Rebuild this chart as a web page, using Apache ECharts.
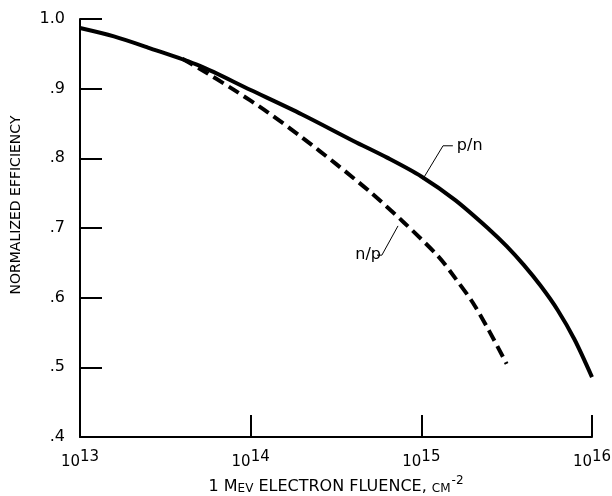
<!DOCTYPE html>
<html><head><meta charset="utf-8">
<script src="https://cdn.jsdelivr.net/npm/echarts@6/dist/echarts.min.js"></script>
<style>html,body{margin:0;padding:0;background:#fff}#c{width:612px;height:496px}</style>
</head><body><div id="c"></div>
<script>
// p/n cell (solid)
const pnFluence = [1e13, 1.58e13, 2.5e13, 5e13, 1e14, 2e14, 4e14, 6.3e14, 1e15, 1.58e15, 2.5e15, 3.16e15, 3.98e15, 5e15, 6.3e15, 7.9e15, 1e16];
const pnEff     = [0.987, 0.975, 0.959, 0.933, 0.898, 0.863, 0.825, 0.801, 0.774, 0.740, 0.698, 0.674, 0.647, 0.617, 0.582, 0.540, 0.486];
// n/p cell (dashed)
const npFluence = [3.98e13, 5e13, 7.9e13, 1.26e14, 2e14, 3.16e14, 5e14, 7.9e14, 1.26e15, 1.58e15, 2e15, 2.5e15, 3.16e15];
const npEff     = [0.943, 0.929, 0.899, 0.866, 0.830, 0.792, 0.752, 0.708, 0.659, 0.628, 0.593, 0.552, 0.505];
// annotation leaders (data space)
const pnLeaderX = [1.02e15, 1.34e15, 1.53e15];
const pnLeaderY = [0.770, 0.818, 0.818];
const npLeaderX = [7.3e14, 5.87e14, 5.5e14];
const npLeaderY = [0.703, 0.661, 0.661];
const labelNames = ['p/n', 'n/p'];

const FONT = "'DejaVu Sans', sans-serif";
const zip = (a, b) => a.map((v, i) => [v, b[i]]);

const chart = echarts.init(document.getElementById('c'), null, {renderer: 'canvas'});
chart.setOption({
  animation: false,
  backgroundColor: '#fff',
  grid: {left: 80, right: 20, top: 19, bottom: 59, containLabel: false, outerBoundsMode: 'none'},
  xAxis: {
    type: 'log', logBase: 10, min: 1e13, max: 1e16,
    name: '{n|1 M}{s|EV}{n| ELECTRON FLUENCE, }{s|CM}{sup|-2}',
    nameLocation: 'middle', nameGap: 35,
    nameTextStyle: {
      rich: {
        n: {fontFamily: FONT, fontSize: 16, color: '#000', verticalAlign: 'bottom', lineHeight: 20},
        s: {fontFamily: FONT, fontSize: 12, color: '#000', verticalAlign: 'bottom', lineHeight: 20},
        sup: {fontFamily: FONT, fontSize: 12, color: '#000', verticalAlign: 'top', lineHeight: 20, padding: [0, 0, 10, 1]}
      }
    },
    axisLine: {show: true, lineStyle: {color: '#000', width: 2}},
    axisTick: {show: true, inside: true, length: 22, lineStyle: {color: '#000', width: 2}},
    minorTick: {show: false},
    splitLine: {show: false},
    axisLabel: {
      margin: 13,
      formatter: v => '{b|10}{e|' + Math.round(Math.log10(v)) + '}',
      rich: {
        b: {fontFamily: FONT, fontSize: 15, color: '#000', verticalAlign: 'bottom', lineHeight: 20},
        e: {fontFamily: FONT, fontSize: 15, color: '#000', verticalAlign: 'top', lineHeight: 20, padding: [0, 0, 5, 0]}
      }
    }
  },
  yAxis: {
    type: 'value', min: 0.4, max: 1.0, interval: 0.1,
    name: 'NORMALIZED EFFICIENCY',
    nameLocation: 'middle', nameGap: 57, nameRotate: 90,
    nameTextStyle: {fontFamily: FONT, fontSize: 14, color: '#000', padding: [0, 0, 0, 46]},
    axisLine: {show: true, lineStyle: {color: '#000', width: 2}},
    axisTick: {show: true, inside: true, length: 22, lineStyle: {color: '#000', width: 2}},
    splitLine: {show: false},
    axisLabel: {
      margin: 15, fontFamily: FONT, fontSize: 16, color: '#000',
      formatter: v => (Math.abs(v - 1) < 1e-6 ? '1.0' : '.' + Math.round(v * 10))
    }
  },
  series: [
    {type: 'line', name: 'p/n', data: zip(pnFluence, pnEff), smooth: 0.3, showSymbol: false,
     lineStyle: {color: '#000', width: 4}, z: 3},
    {type: 'line', name: 'n/p', data: zip(npFluence, npEff), smooth: 0.3, showSymbol: false,
     lineStyle: {color: '#000', width: 4, type: [12, 6]}, z: 3},
    {type: 'line', data: zip(pnLeaderX, pnLeaderY), showSymbol: false, smooth: false,
     lineStyle: {color: '#000', width: 1}, z: 2,
     endLabel: {show: true, formatter: labelNames[0], fontFamily: FONT, fontSize: 16, color: '#000', distance: 4}},
    {type: 'line', data: zip(npLeaderX, npLeaderY), showSymbol: false, smooth: false,
     lineStyle: {color: '#000', width: 1}, z: 2,
     endLabel: {show: true, formatter: labelNames[1], fontFamily: FONT, fontSize: 16, color: '#000', distance: 4, align: 'right'}}
  ]
});
</script></body></html>
